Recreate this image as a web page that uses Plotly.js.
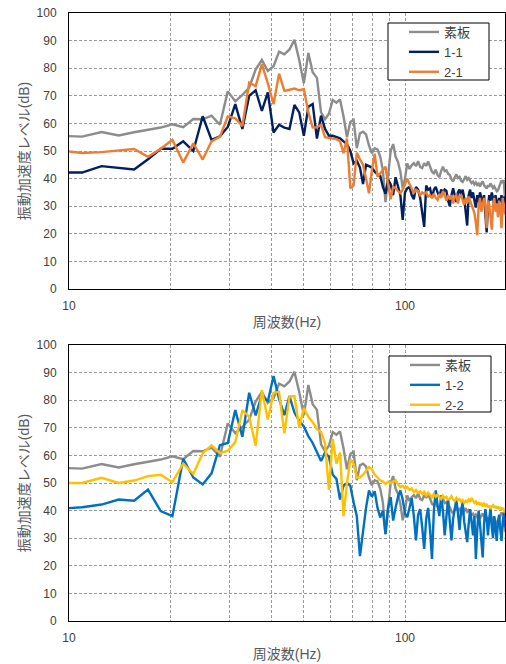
<!DOCTYPE html>
<html>
<head>
<meta charset="utf-8">
<script src="https://cdn.plot.ly/plotly-3.0.1.min.js"></script>
<style>
html,body{margin:0;padding:0;background:#fff;}
#chart{width:506px;height:664px;}
</style>
</head>
<body>
<div id="chart"></div>
<script>
// Frequency grid (Hz), 1.5625 Hz resolution
const freq = [
 9.375, 10.9375, 12.5, 14.0625, 15.625, 17.1875, 18.75, 20.3125, 21.875, 23.4375,
 25, 26.5625, 28.125, 29.6875, 31.25, 32.8125, 34.375, 35.9375, 37.5, 39.0625,
 40.625, 42.1875, 43.75, 45.3125, 46.875, 48.4375, 50, 51.5625, 53.125, 54.6875,
 56.25, 57.8125, 59.375, 60.9375, 62.5, 64.0625, 65.625, 67.1875, 68.75, 70.3125,
 71.875, 73.4375, 75, 76.5625, 78.125, 79.6875, 81.25, 82.8125, 84.375, 85.9375,
 87.5, 89.0625, 90.625, 92.1875, 93.75, 95.3125, 96.875, 98.4375,
 100, 101.5625, 103.125, 104.6875, 106.25, 107.8125, 109.375, 110.9375, 112.5, 114.0625, 115.625, 117.1875,
 118.75, 120.3125, 121.875, 123.4375, 125, 126.5625, 128.125, 129.6875, 131.25, 132.8125, 134.375, 135.9375,
 137.5, 139.0625, 140.625, 142.1875, 143.75, 145.3125, 146.875, 148.4375, 150, 151.5625, 153.125, 154.6875,
 156.25, 157.8125, 159.375, 160.9375, 162.5, 164.0625, 165.625, 167.1875, 168.75, 170.3125, 171.875, 173.4375,
 175, 176.5625, 178.125, 179.6875, 181.25, 182.8125, 184.375, 185.9375, 187.5, 189.0625, 190.625, 192.1875,
 193.75, 195.3125, 196.875, 198.4375, 200
];

// 素板 (bare board) - shown in both charts
const baseBoard = [
 55.5, 55.2, 56.9, 55.6, 56.8, 57.6, 58.5, 59.7, 58.6, 61.6,
 61.5, 62.8, 59.5, 71.6, 68, 70.3, 73, 79.5, 83, 79,
 80.7, 86, 85, 86.8, 90.3, 83, 74.5, 85.5, 78.5, 76.5,
 64, 61.5, 63.5, 68.5, 67.5, 68.7, 62.5, 55, 60.5, 61.3,
 51, 56.4, 57, 56, 52, 49.2, 51, 50.6, 48, 43,
 31.5, 41, 50, 52.5, 48, 46, 42.5, 36.5,
 40, 45.5, 43.5, 44.8, 45.6, 44.5, 46.3, 44.2, 43.8, 45.6, 44.6, 46.2,
 44, 42.5, 41.9, 43.2, 41.3, 40.5, 42.8, 44.3, 42.7, 43, 41.8, 41.3,
 39.8, 38.9, 40.5, 41.5, 40.2, 40.6, 39.2, 38.8, 39.8, 40.9, 39.6, 40.2,
 39.2, 38.4, 38.9, 37.9, 38.6, 37.7, 38.2, 37.1, 38.3, 39, 37.6, 36.9,
 36.4, 37.6, 37, 38.3, 37.5, 36.6, 37.2, 36, 35.4, 35.8, 37.2, 38.2,
 39.3, 38.4, 39.5, 32.3, 34
];

// 1-1
const s11 = [
 42.2, 42.2, 44.5, 44.0, 43.3, 47, 50.8, 50.8, 53.5, 50,
 62.6, 54, 55.3, 58.7, 67, 58, 70, 72, 64.5, 71.2,
 56.7, 59.5, 58.5, 58, 66.7, 64, 55.5, 66, 67, 54.5,
 62.8, 58, 55.5, 55.5, 55, 54.6, 53.5, 52.5, 50, 45.5,
 46.5, 44, 38, 45, 44.5, 44, 42.5, 41.5, 41, 37,
 34.5, 39.5, 38, 34, 40.5, 37, 34, 25,
 35, 36.5, 37, 34, 32.5, 37, 36, 33, 27, 22.5, 37.5, 36,
 36.5, 33, 36, 37, 35, 33.5, 36, 35, 36, 35.5, 32, 30,
 34, 36.5, 34, 31.5, 35, 36, 34, 36, 33, 28, 23, 34,
 36, 33, 35, 32, 29.5, 34, 31.5, 35, 33, 31, 34, 28,
 20.5, 30, 34, 32, 35, 33, 30, 34, 31, 29, 33, 31.5,
 34, 30, 33.5, 31, 32
];

// 2-1
const s21 = [
 50.2, 49.3, 49.6, 50.2, 50.7, 47.9, 50.8, 54, 45.8, 52.8,
 46.9, 53.5, 55.2, 62.5, 61.8, 59, 74.8, 73.5, 81.5, 74.5,
 67, 78, 71.8, 72.2, 72.6, 72, 72.4, 64, 58.5, 58.6,
 59.5, 55, 54.8, 54.5, 54.3, 53.5, 49.2, 54.5, 36.5, 37.5,
 49.4, 47, 45, 40, 34.7, 43, 49, 40.7, 42, 43,
 44.3, 38, 32.5, 37, 36.5, 35.5, 34.7, 36,
 38, 40, 38, 36, 34.7, 36, 35.5, 34, 35, 34.5, 35, 33.5,
 34, 33, 34.5, 33, 32.3, 34.5, 33, 35.5, 33.5, 32, 34, 32.5,
 34, 31, 33.5, 34, 31, 33.5, 34, 32, 30.5, 33, 31, 33.5,
 32, 30, 29, 27.5, 24, 19.5, 30, 33, 28, 31, 33, 30,
 22, 32, 30.5, 26, 21.5, 30, 33, 28, 31, 26, 32, 29,
 22, 33, 30, 27, 29
];

// 1-2
const s12 = [
 40.7, 41.2, 42.2, 44, 43.6, 47.6, 39.8, 38, 58.8, 52,
 49.5, 53.5, 63.7, 64.5, 76.4, 66.7, 82.7, 74.5, 82, 79.5,
 88.8, 80.5, 74.6, 81.5, 75.5, 72.5, 70.5, 67, 64.5, 61.5,
 58, 61, 59.5, 53, 51.5, 44, 49, 50, 49, 43,
 38, 23.5, 33, 41, 47.3, 45, 47, 41, 37.5, 40,
 31.5, 41, 44.9, 36.4, 41, 45, 47.3, 44,
 39, 37.6, 41, 44.5, 38, 29.2, 38.5, 40.5, 34, 26.1, 37, 41,
 33, 22.5, 40, 47.3, 42, 38, 45.5, 40, 31, 39, 44.5, 36,
 29.2, 37, 41, 44, 39, 33, 40, 43, 36, 32, 28.6, 35,
 40.5, 36, 31, 38, 22.5, 33, 40, 35, 29, 23, 35, 40.5,
 37, 31, 37, 41, 34, 30, 38, 34, 29, 36, 38.5, 33,
 29, 36, 39, 34, 40
];

// 2-2
const s22 = [
 50, 50, 51.9, 50, 50.9, 52.5, 53, 50.3, 57, 53.3,
 60.8, 63.6, 60.8, 61.7, 64.8, 76.4, 74, 63.5, 83.6, 73,
 82.7, 83, 68, 81.3, 81.5, 70, 77.2, 74, 72, 69.5,
 68.5, 64.3, 47.5, 66, 57, 61, 38, 50, 58.5, 57,
 52, 52, 53, 54.3, 55.8, 55, 53, 52, 51, 50.5,
 49.7, 50.5, 50, 50.5, 51, 49.5, 48.5, 49,
 48, 48.5, 47.5, 48, 46.7, 47.5, 46.5, 47, 46, 46.8, 45.5, 46.5,
 45.5, 44.8, 46, 45, 45.8, 44.9, 44.2, 45.4, 44.5, 45, 44, 44.3,
 45.2, 44, 43.5, 44.6, 43.7, 44.2, 43.2, 43.8, 42.8, 43.5, 43.1, 44,
 43.2, 44.5, 43.7, 42.8, 43.3, 42.2, 43, 41.9, 42.8, 41.5, 42.5, 41.8,
 42.4, 41.2, 41.9, 40.6, 41.5, 42, 41, 41.7, 40.8, 41.5, 40.6, 41.3,
 40.2, 41, 40.3, 39.4, 40.5
];

const topNames = ['素板', '1-1', '2-1'];
const botNames = ['素板', '1-2', '2-2'];
const xTickVals = [10, 20, 30, 40, 50, 60, 70, 80, 90, 100];
const xTickText = ['10', '', '', '', '', '', '', '', '', '100'];
const xTitle = '周波数(Hz)';
const yTitle = '振動加速度レベル(dB)';

const FONT = 'Liberation Sans, "Noto Sans CJK JP", sans-serif';
const W = 506, H = 664;
const M = {l: 69, r: 1, t: 13, b: 43};
const plotW = W - M.l - M.r, plotH = H - M.t - M.b;
const px = x => (x - M.l) / plotW;
const py = y => 1 - (y - M.t) / plotH;

function line(x, y, name, color, xa, ya, lg) {
  return {x: x, y: y, name: name, type: 'scatter', mode: 'lines',
    line: {color: color, width: 2.4}, xaxis: xa, yaxis: ya, legend: lg,
    hoverinfo: 'skip'};
}

const data = [
  line(freq, baseBoard, topNames[0], '#8C8C8C', 'x', 'y', 'legend'),
  line(freq, s11, topNames[1], '#002060', 'x', 'y', 'legend'),
  line(freq, s21, topNames[2], '#ED7D31', 'x', 'y', 'legend'),
  line(freq, baseBoard, botNames[0], '#8C8C8C', 'x2', 'y2', 'legend2'),
  line(freq, s12, botNames[1], '#0070C0', 'x2', 'y2', 'legend2'),
  line(freq, s22, botNames[2], '#FFC000', 'x2', 'y2', 'legend2')
];

function xAxis(anchor) {
  return {
    type: 'log', range: [1, 1 + plotW / 336], anchor: anchor,
    tickvals: xTickVals, ticktext: xTickText,
    showgrid: true, gridcolor: '#9b9b9b', griddash: '3px,2px', gridwidth: 1,
    showline: true, mirror: true, linecolor: '#000', linewidth: 1,
    ticks: 'outside', ticklen: 6, tickcolor: 'rgba(0,0,0,0)',
    tickfont: {size: 12, color: '#404040', family: FONT},
    zeroline: false, automargin: false,
    title: {text: xTitle, font: {size: 14, color: '#595959', family: FONT}, standoff: 4}
  };
}
function yAxis(anchor, dom) {
  return {
    range: [0, 100], tick0: 0, dtick: 10, anchor: anchor, domain: dom,
    showgrid: true, gridcolor: '#9b9b9b', griddash: '3px,2px', gridwidth: 1,
    showline: true, mirror: true, linecolor: '#000', linewidth: 1,
    ticks: 'outside', ticklen: 9, tickcolor: 'rgba(0,0,0,0)',
    tickfont: {size: 12, color: '#404040', family: FONT},
    zeroline: false, automargin: false,
    title: {text: yTitle, font: {size: 14, color: '#595959', family: FONT}, standoff: 3}
  };
}

function legend(lx, ly) {
  return {x: px(lx), y: py(ly), xanchor: 'left', yanchor: 'top',
    borderwidth: 0, bgcolor: 'rgba(0,0,0,0)', itemwidth: 30,
    font: {size: 13, color: '#404040', family: FONT}, tracegroupgap: 0,
    itemclick: false, itemdoubleclick: false};
}
function box(x0, y0, x1, y1) {
  return {type: 'rect', xref: 'paper', yref: 'paper',
    x0: px(x0), x1: px(x1), y0: py(y1), y1: py(y0),
    fillcolor: '#fff', line: {color: '#000', width: 1}, layer: 'above'};
}

const layout = {
  width: W, height: H, margin: M,
  paper_bgcolor: '#fff', plot_bgcolor: '#fff',
  font: {family: FONT, color: '#404040'},
  showlegend: true,
  xaxis: xAxis('y'),
  yaxis: yAxis('x', [py(289), 1]),
  xaxis2: xAxis('y2'),
  yaxis2: yAxis('x2', [0, py(345)]),
  legend: legend(404, 17),
  legend2: legend(405, 350),
  shapes: [box(388, 23, 489, 80), box(389, 356, 491, 412)]
};

Plotly.newPlot('chart', data, layout, {staticPlot: true, displayModeBar: false});
</script>
</body>
</html>
